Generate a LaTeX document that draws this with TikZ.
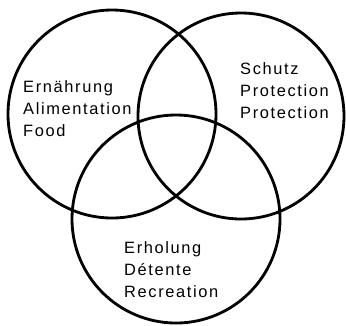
\documentclass[tikz,border=0pt]{standalone}
\usepackage{fontspec}
\newfontfamily\vennfont{Liberation Sans}[LetterSpace=10]
\begin{document}
\begin{tikzpicture}[x=0.03cm,y=-0.03cm,
  ring/.style={line width=2.4pt},
  lbl/.style={font=\vennfont\fontsize{14}{19}\selectfont,align=left,anchor=north west,inner sep=0pt}]
\useasboundingbox (0,0) rectangle (346,325);
\draw[ring] (112,114) circle (3.12cm);
\draw[ring] (241,116) circle (3.09cm);
\draw[ring] (176,219) circle (3.12cm);
\path (23,80) node[lbl](food){Ernährung\\Alimentation\\Food}
      (240,62) node[lbl](prot){Schutz\\Protection\\Protection}
      (124,241) node[lbl](recr){Erholung\\Détente\\Recreation};
\end{tikzpicture}
\end{document}
